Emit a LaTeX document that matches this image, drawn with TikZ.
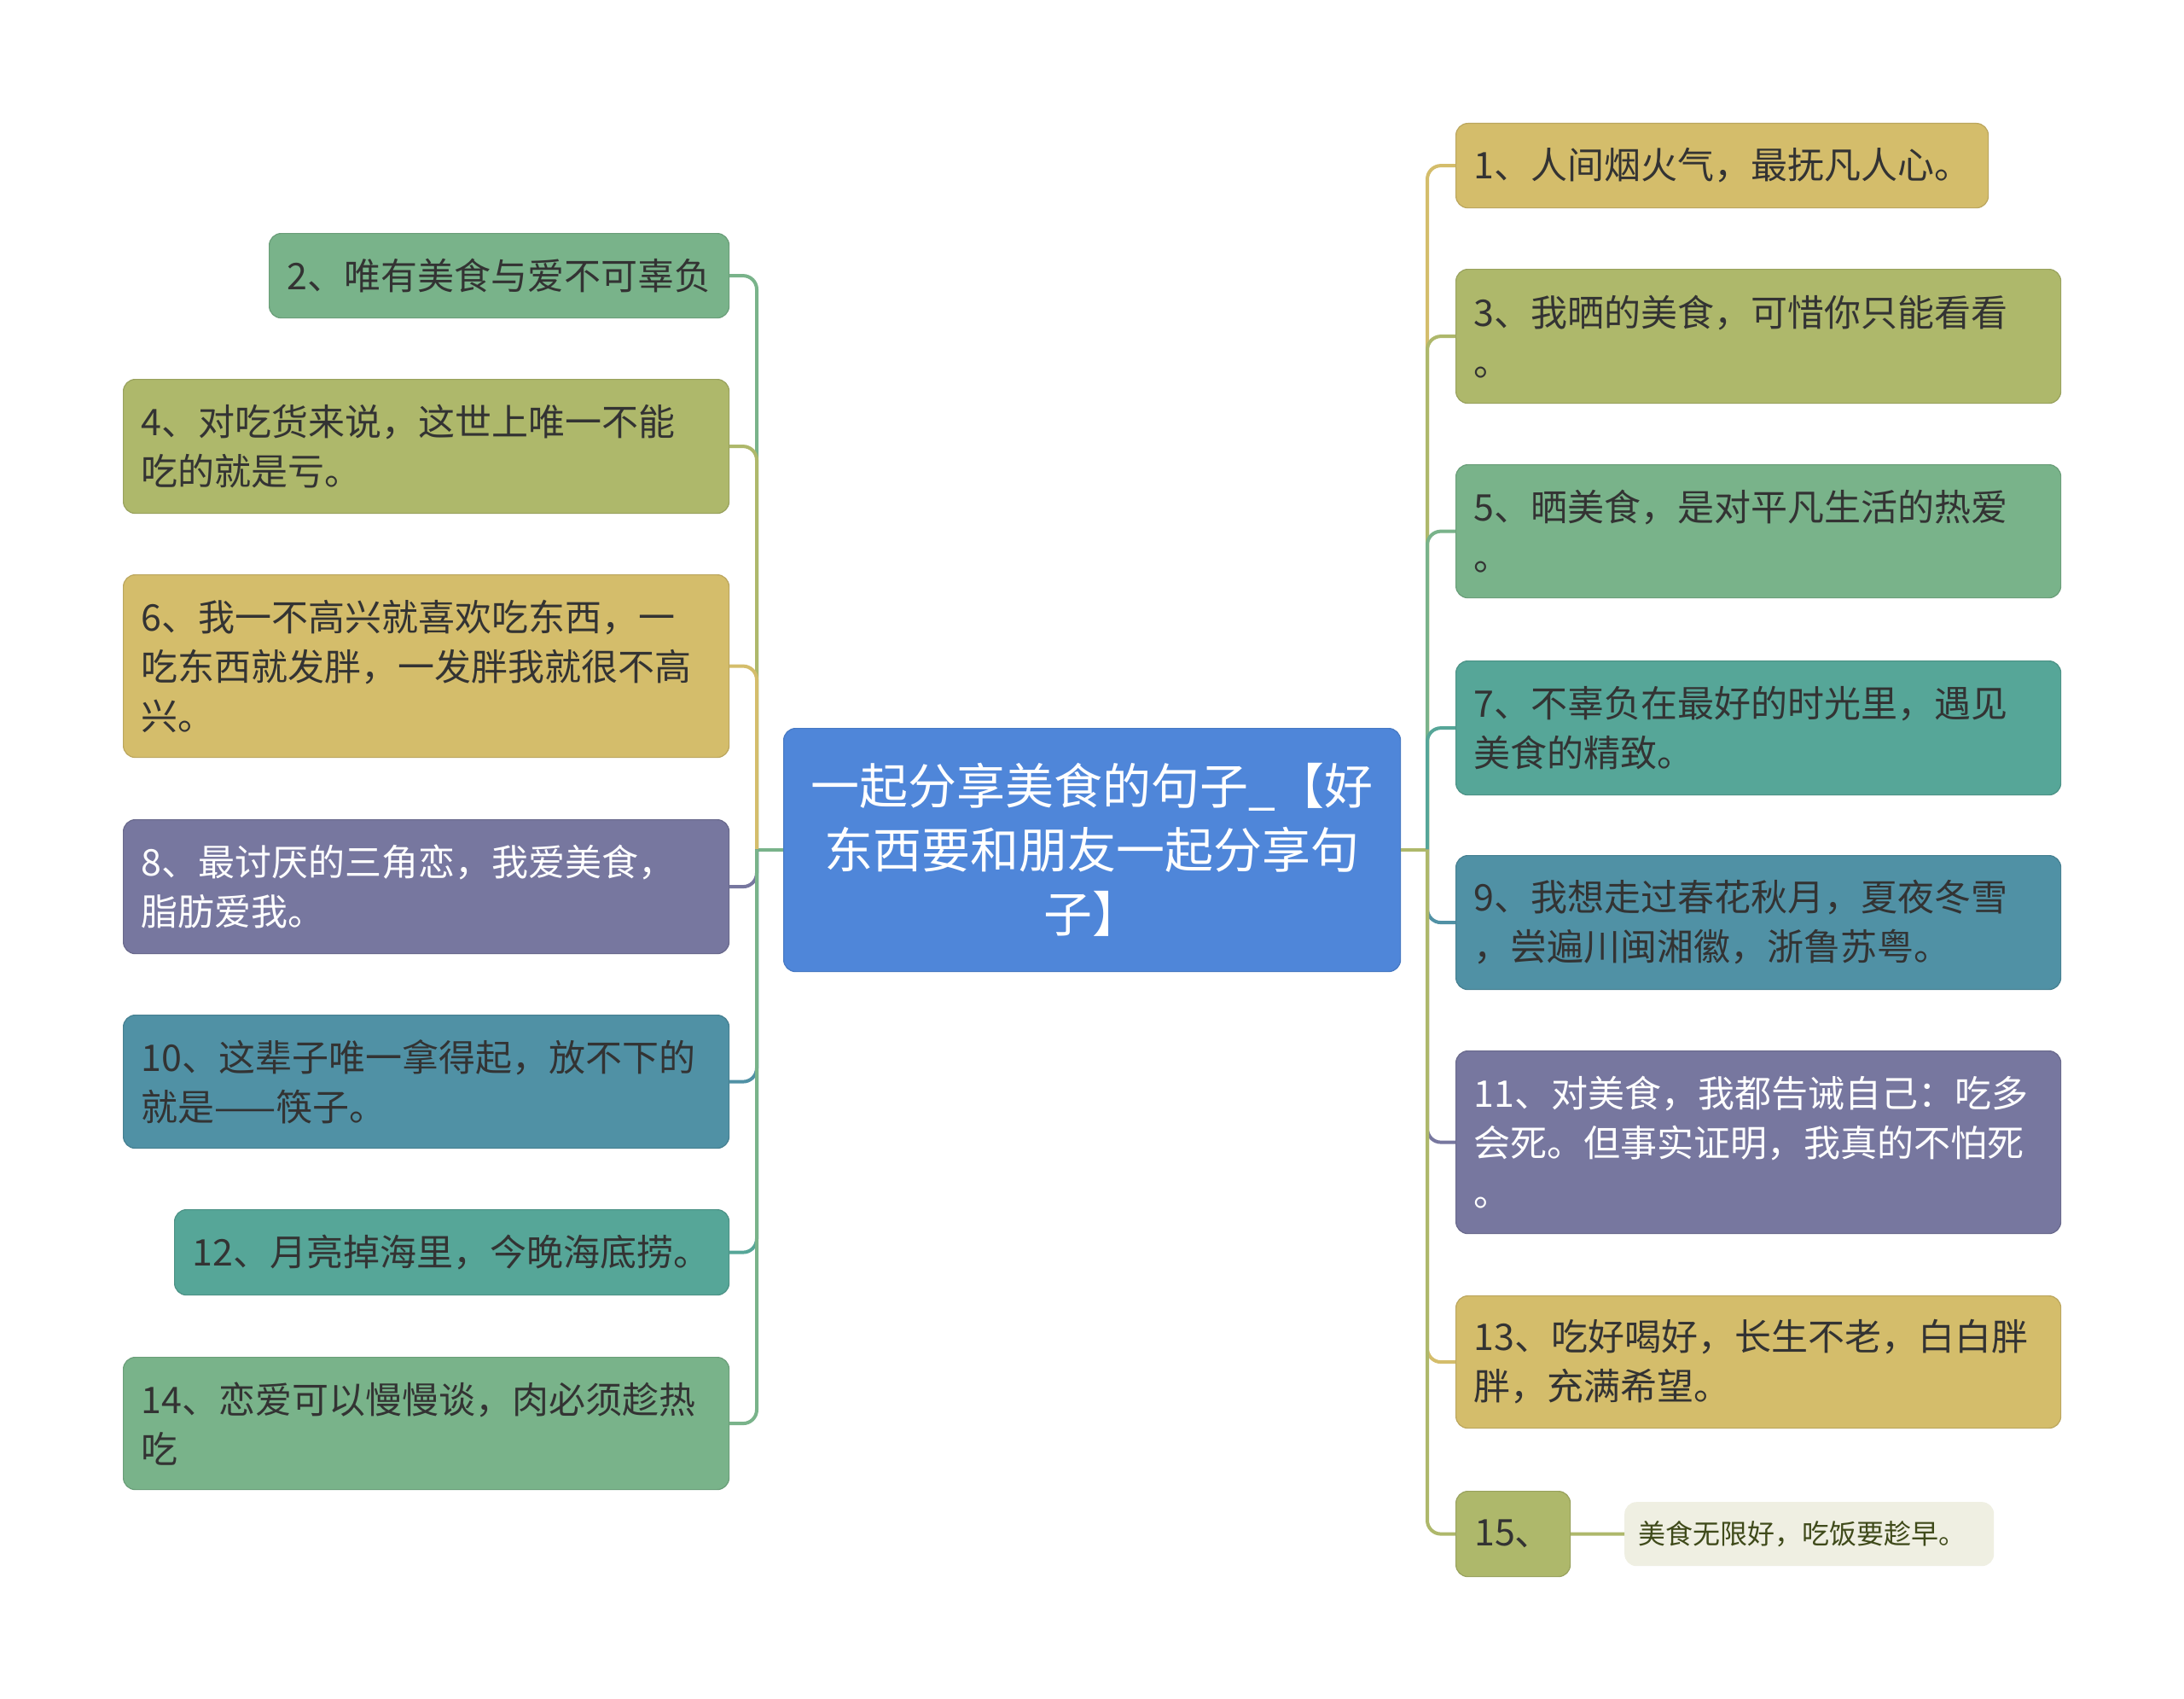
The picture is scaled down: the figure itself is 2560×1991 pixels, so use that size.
\documentclass[tikz,border=0pt]{standalone}
\usepackage{fontspec}
\setmainfont{Noto Sans CJK SC}
\definecolor{cblue}{HTML}{4F86D9}
\definecolor{cmust}{HTML}{D4BD6B}
\definecolor{colive}{HTML}{AEB86B}
\definecolor{cgreen}{HTML}{79B38A}
\definecolor{cteal}{HTML}{56A698}
\definecolor{csteel}{HTML}{5091A5}
\definecolor{cpurp}{HTML}{77779F}
\definecolor{cpale}{HTML}{EFEFE2}
\definecolor{ctext}{HTML}{333333}
\definecolor{cdark}{HTML}{3F4A1A}
\newcommand\leaffont{\fontsize{43pt}{58pt}\selectfont}
\newcommand\rootfont{\fontsize{57pt}{75pt}\selectfont}
\newcommand\smallfont{\fontsize{32pt}{40pt}\selectfont}
\tikzset{
  leaf/.style n args={2}{rounded corners=14pt, fill=#1, draw=#1!88!black,
    line width=1.2pt, inner xsep=21pt, inner ysep=0pt, text width=#2,
    align=left, font=\leaffont, text=ctext, anchor=north west},
  rootbox/.style={rounded corners=14pt, fill=cblue, draw=cblue!90!black,
    line width=1.2pt, inner sep=0pt, minimum width=723pt, minimum height=285pt,
    text width=700pt, align=center, font=\rootfont, text=white, anchor=north west},
  conn/.style={line width=4pt, rounded corners=16pt},
}
\begin{document}
\begin{tikzpicture}[x=1pt,y=-1pt]
\useasboundingbox (0,0) rectangle (2560,1991);
\fill[white] (0,0) rectangle (2560,1991);

% root
\node[rootbox] (C) at (918,853) {一起分享美食的句子\_【好\\东西要和朋友一起分享句\\子】};
\coordinate (JL) at (887,995.5);
\coordinate (JR) at (1673,995.5);

% right nodes
\node[leaf={cmust}{582pt}, minimum height=99pt] (n1) at (1706,144) {1、人间烟火气，最抚凡人心。};
\node[leaf={colive}{667pt}, minimum height=157pt] (n3) at (1706,315) {3、我晒的美食，可惜你只能看看\\。};
\node[leaf={cgreen}{667pt}, minimum height=156pt] (n5) at (1706,544) {5、晒美食，是对平凡生活的热爱\\。};
\node[leaf={cteal}{667pt}, minimum height=157pt] (n7) at (1706,774) {7、不辜负在最好的时光里，遇见\\美食的精致。};
\node[leaf={csteel}{667pt}, minimum height=157pt] (n9) at (1706,1002) {9、我想走过春花秋月，夏夜冬雪\\，尝遍川闽湘徽，浙鲁苏粤。};
\node[leaf={cpurp}{667pt}, minimum height=214pt, text=white] (n11) at (1706,1231) {11、对美食，我都告诫自己：吃多\\会死。但事实证明，我真的不怕死\\。};
\node[leaf={cmust}{667pt}, minimum height=155pt] (n13) at (1706,1518) {13、吃好喝好，长生不老，白白胖\\胖，充满希望。};
\node[rounded corners=14pt, fill=colive, draw=colive!88!black, line width=1.2pt,
  inner sep=0pt, minimum width=134pt, minimum height=100pt, font=\leaffont,
  text=ctext, anchor=north west] (n15) at (1706,1747) {15、};
\node[rounded corners=14pt, fill=cpale, inner xsep=16pt, inner ysep=0pt,
  text width=401pt, minimum height=75pt, align=left, font=\smallfont,
  text=cdark, anchor=north west] (n15c) at (1904,1760) {美食无限好，吃饭要趁早。};

% left nodes
\node[leaf={cgreen}{497pt}, minimum height=99pt] (n2) at (315,273) {2、唯有美食与爱不可辜负};
\node[leaf={colive}{668pt}, minimum height=157pt] (n4) at (144,444) {4、对吃货来说，这世上唯一不能\\吃的就是亏。};
\node[leaf={cmust}{668pt}, minimum height=214pt] (n6) at (144,673) {6、我一不高兴就喜欢吃东西，一\\吃东西就发胖，一发胖我就很不高\\兴。};
\node[leaf={cpurp}{668pt}, minimum height=157pt, text=white] (n8) at (144,960) {8、最讨厌的三角恋，我爱美食，\\脂肪爱我。};
\node[leaf={csteel}{668pt}, minimum height=156pt] (n10) at (144,1189) {10、这辈子唯一拿得起，放不下的\\就是——筷子。};
\node[leaf={cteal}{608pt}, minimum height=100pt] (n12) at (204,1417) {12、月亮掉海里，今晚海底捞。};
\node[leaf={cgreen}{668pt}, minimum height=155pt] (n14) at (144,1590) {14、恋爱可以慢慢谈，肉必须趁热\\吃};

% left connectors
\draw[line width=4pt, cgreen] (C.west |- JL) -- (JL);
\draw[conn, cgreen] (JL) -- (JL |- n2.east) -- (n2.east);
\draw[conn, colive] (JL) -- (JL |- n4.east) -- (n4.east);
\draw[conn, cmust] (JL) -- (JL |- n6.east) -- (n6.east);
\draw[conn, cpurp] (JL) -- (JL |- n8.east) -- (n8.east);
\draw[conn, csteel] (JL) -- (JL |- n10.east) -- (n10.east);
\draw[conn, cteal] (JL) -- (JL |- n12.east) -- (n12.east);
\draw[conn, cgreen] (JL) -- (JL |- n14.east) -- (n14.east);

% right connectors
\draw[line width=4pt, colive] (C.east |- JR) -- (JR);
\draw[conn, cmust] (JR) -- (JR |- n1.west) -- (n1.west);
\draw[conn, colive] (JR) -- (JR |- n3.west) -- (n3.west);
\draw[conn, cgreen] (JR) -- (JR |- n5.west) -- (n5.west);
\draw[conn, cteal] (JR) -- (JR |- n7.west) -- (n7.west);
\draw[conn, csteel] (JR) -- (JR |- n9.west) -- (n9.west);
\draw[conn, cpurp] (JR) -- (JR |- n11.west) -- (n11.west);
\draw[conn, cmust] (JR) -- (JR |- n13.west) -- (n13.west);
\draw[conn, colive] (JR) -- (JR |- n15.west) -- (n15.west);
\draw[line width=4pt, colive] (n15.east) -- (n15c.west);
\end{tikzpicture}
\end{document}
